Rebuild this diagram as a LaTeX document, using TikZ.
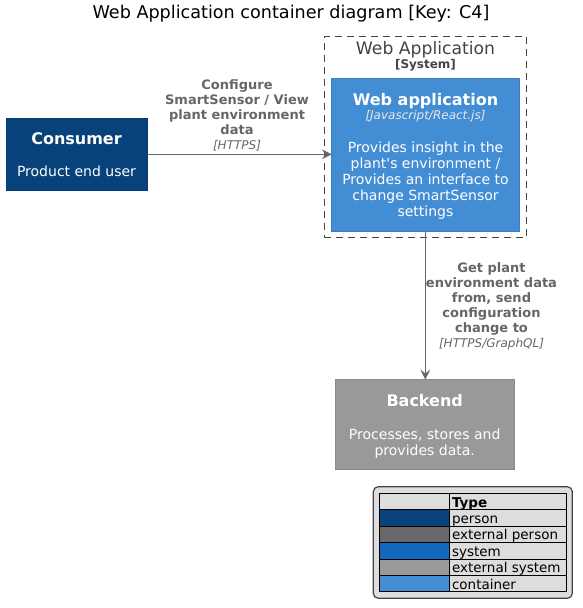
\documentclass[tikz,border=0pt]{standalone}
\usepackage{fontspec}
\setmainfont{DejaVu Sans}[Ligatures=TeXOff]
\usetikzlibrary{arrows.meta}
\definecolor{personC}{HTML}{08427B}
\definecolor{personS}{HTML}{073B6F}
\definecolor{extpersonC}{HTML}{686868}
\definecolor{systemC}{HTML}{1168BD}
\definecolor{extsystemC}{HTML}{999999}
\definecolor{extsystemS}{HTML}{8A8A8A}
\definecolor{containerC}{HTML}{438DD5}
\definecolor{containerS}{HTML}{3C7FC0}
\definecolor{edgeC}{HTML}{666666}
\definecolor{boundC}{HTML}{444444}
\definecolor{legendC}{HTML}{DDDDDD}
\definecolor{techC}{HTML}{E8E8E8}
\tikzset{
  elbox/.style={draw, line width=1pt, inner sep=0pt, outer sep=0pt},
  txt/.style={inner sep=0pt, outer sep=0pt, anchor=base},
  wname/.style={txt, text=white, font=\fontsize{16}{19}\selectfont\bfseries},
  wdesc/.style={txt, text=white, font=\fontsize{14}{16.3}\selectfont},
  wtech/.style={txt, text=techC, font=\fontsize{12}{14}\selectfont\itshape},
  elabel/.style={txt, text=edgeC, font=\fontsize{13}{15}\selectfont\bfseries},
  etech/.style={txt, text=edgeC, font=\fontsize{12}{14}\selectfont\itshape},
  rel/.style={draw=edgeC, line width=1pt, -{Stealth[length=10pt,width=10pt,inset=4pt]}},
  legcell/.style={draw=black, line width=0.8pt, inner sep=0pt, outer sep=0pt, anchor=north west},
  legtxt/.style={txt, anchor=base west, font=\fontsize{13.5}{16}\selectfont},
}
\begin{document}
\begin{tikzpicture}[x=1pt,y=-1pt]
\useasboundingbox (0,0) rectangle (582,608);
\fill[white] (0,0) rectangle (582,608);

% title
\node[txt, font=\fontsize{17.6}{20}\selectfont] (title) at (291,18) {Web Application container diagram [Key: C4]};

% Consumer
\node[elbox, draw=personS, fill=personC, minimum width=141pt, minimum height=72pt] (consumer) at (76.5,154.3) {};
\node[wname] (consumerName) at (76.5,144) {Consumer};
\node[wdesc] (consumerDesc) at (76.5,176.5) {Product end user};

% Boundary
\node[draw=boundC, line width=1pt, dash pattern=on 7pt off 5pt, inner sep=0pt, outer sep=0pt, minimum width=202.4pt, minimum height=200.6pt] (boundary) at (425.5,137) {};
\node[txt, text=boundC, font=\fontsize{17.2}{20}\selectfont] (boundTitle) at (425.5,54) {Web Application};
\node[txt, text=boundC, font=\fontsize{12}{14}\selectfont\bfseries] (boundType) at (425.5,68.5) {[System]};

% Web application container
\node[elbox, draw=containerS, fill=containerC, minimum width=187.6pt, minimum height=152.6pt] (webapp) at (425.5,155) {};
\node[wname] (webappName) at (425.5,105.3) {Web application};
\node[wtech] (webappTech) at (425.5,119.5) {[Javascript/React.js]};
\node[wdesc] (webappD1) at (425.5,152) {Provides insight in the};
\node[wdesc] (webappD2) at (425.5,168) {plant's environment /};
\node[wdesc] (webappD3) at (425.5,184) {Provides an interface to};
\node[wdesc] (webappD4) at (425.5,200) {change SmartSensor};
\node[wdesc] (webappD5) at (425.5,216) {settings};

% Backend
\node[elbox, draw=extsystemS, fill=extsystemC, minimum width=179.3pt, minimum height=89.5pt] (backend) at (424.7,424.3) {};
\node[wname] (backendName) at (424.7,406.7) {Backend};
\node[wdesc] (backendD1) at (424.7,439.3) {Processes, stores and};
\node[wdesc] (backendD2) at (424.7,455.3) {provides data.};

% Relation 1
\draw[rel] (consumer.east |- 0,154.3) -- (webapp.west |- 0,154.3);
\node[elabel] (r1a) at (237,89.3) {Configure};
\node[elabel] (r1b) at (237,104.3) {SmartSensor / View};
\node[elabel] (r1c) at (237,119.3) {plant environment};
\node[elabel] (r1d) at (237,134.3) {data};
\node[etech] (r1e) at (237,149) {[HTTPS]};

% Relation 2
\draw[rel] (webapp.south -| 425.3,0) -- (backend.north -| 425.3,0);
\node[elabel] (r2a) at (491.5,272.7) {Get plant};
\node[elabel] (r2b) at (491.5,287.7) {environment data};
\node[elabel] (r2c) at (491.5,302.7) {from, send};
\node[elabel] (r2d) at (491.5,317.7) {configuration};
\node[elabel] (r2e) at (491.5,332.7) {change to};
\node[etech] (r2f) at (491.5,347) {[HTTPS/GraphQL]};

% Legend
\node[draw=boundC, line width=1.2pt, fill=legendC, rounded corners=5pt, inner sep=0pt, outer sep=0pt, minimum width=199pt, minimum height=111.6pt, anchor=north west] (legendBox) at (373.3,486.7) {};
\node[legcell, fill=legendC, minimum width=70pt, minimum height=16.4pt] (h0) at (379.3,493.3) {};
\node[legcell, fill=legendC, minimum width=117.4pt, minimum height=16.4pt] (h1) at (449.3,493.3) {};
\node[legcell, fill=personC, minimum width=70pt, minimum height=16.4pt] (c1) at (379.3,509.7) {};
\node[legcell, fill=legendC, minimum width=117.4pt, minimum height=16.4pt] (t1) at (449.3,509.7) {};
\node[legcell, fill=extpersonC, minimum width=70pt, minimum height=16.4pt] (c2) at (379.3,526.1) {};
\node[legcell, fill=legendC, minimum width=117.4pt, minimum height=16.4pt] (t2) at (449.3,526.1) {};
\node[legcell, fill=systemC, minimum width=70pt, minimum height=16.4pt] (c3) at (379.3,542.5) {};
\node[legcell, fill=legendC, minimum width=117.4pt, minimum height=16.4pt] (t3) at (449.3,542.5) {};
\node[legcell, fill=extsystemC, minimum width=70pt, minimum height=16.4pt] (c4) at (379.3,558.9) {};
\node[legcell, fill=legendC, minimum width=117.4pt, minimum height=16.4pt] (t4) at (449.3,558.9) {};
\node[legcell, fill=containerC, minimum width=70pt, minimum height=16.4pt] (c5) at (379.3,575.3) {};
\node[legcell, fill=legendC, minimum width=117.4pt, minimum height=16.4pt] (t5) at (449.3,575.3) {};
\node[legtxt, font=\fontsize{13.5}{16}\selectfont\bfseries] (lt0) at (452,507) {Type};
\node[legtxt] (lt1) at (452,523.4) {person};
\node[legtxt] (lt2) at (452,539.8) {external person};
\node[legtxt] (lt3) at (452,556.2) {system};
\node[legtxt] (lt4) at (452,572.6) {external system};
\node[legtxt] (lt5) at (452,589) {container};
\end{tikzpicture}
\end{document}
